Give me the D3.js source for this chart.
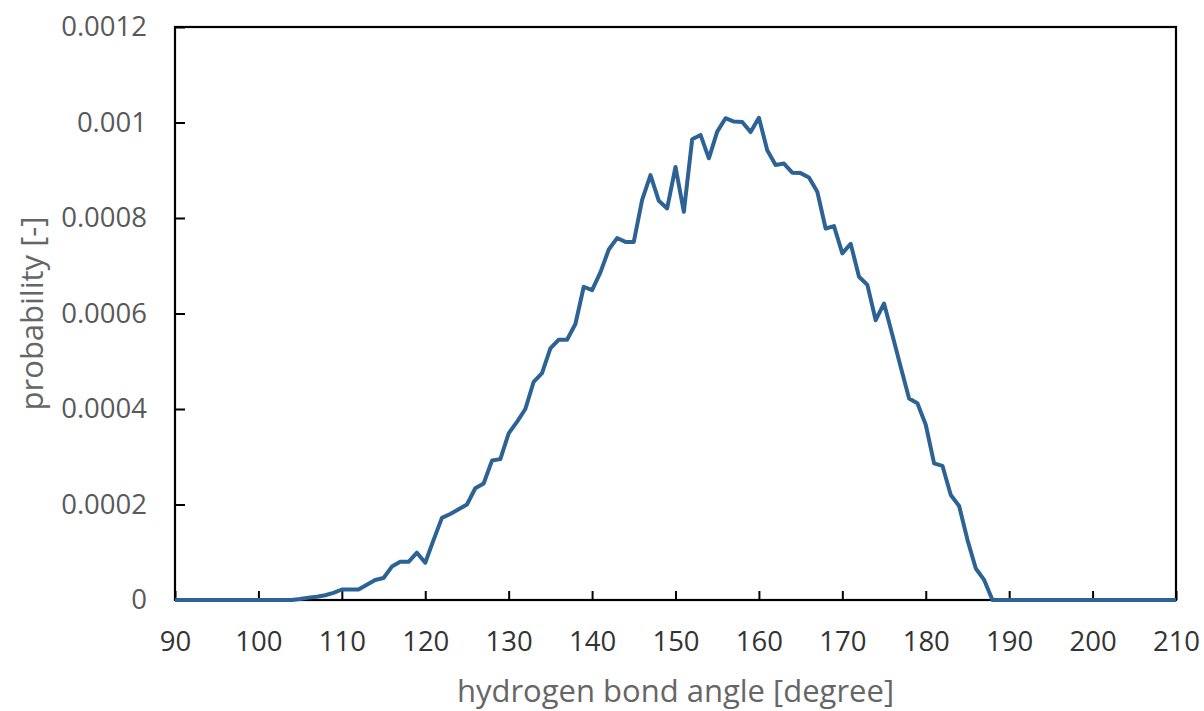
<!DOCTYPE html>
<html>
<head>
<meta charset="utf-8">
<script src="https://cdn.jsdelivr.net/npm/d3@7"></script>
<style>
  html, body { margin: 0; padding: 0; background: #ffffff; }
  svg { display: block; font-family: "Open Sans", "Liberation Sans", sans-serif; }
</style>
</head>
<body>
<svg id="chart" width="1204" height="711"></svg>
<script>
// Hydrogen bond angle distribution (degrees, 1° bins)
const angles = d3.range(90, 211, 1);
const probability = [
  // 90–104
  0, 0, 0, 0, 0, 0, 0, 0, 0, 0, 0, 0, 0, 0, 0,
  // 105–119
  0.000002, 0.000005, 0.000007, 0.00001, 0.000015, 0.000022, 0.000022, 0.000022,
  0.000032, 0.000042, 0.000046, 0.00007, 0.00008, 0.00008, 0.000099,
  // 120–134
  0.000078, 0.000126, 0.000172, 0.00018, 0.00019, 0.0002, 0.000234, 0.000244,
  0.000292, 0.000295, 0.000349, 0.000373, 0.0004, 0.000457, 0.000475,
  // 135–149
  0.000527, 0.000545, 0.000545, 0.000578, 0.000656, 0.000649, 0.000686, 0.000734,
  0.000758, 0.00075, 0.00075, 0.000838, 0.00089, 0.000836, 0.00082,
  // 150–164
  0.000907, 0.000813, 0.000965, 0.000974, 0.000925, 0.000981, 0.001009, 0.001002,
  0.001001, 0.00098, 0.00101, 0.000942, 0.000911, 0.000914, 0.000895,
  // 165–179
  0.000894, 0.000885, 0.000855, 0.000778, 0.000783, 0.000726, 0.000746, 0.000677,
  0.00066, 0.000586, 0.000621, 0.000555, 0.000488, 0.000422, 0.000412,
  // 180–194
  0.000367, 0.000286, 0.000281, 0.00022, 0.000197, 0.000126, 0.000066, 0.000042,
  0, 0, 0, 0, 0, 0, 0,
  // 195–210
  0, 0, 0, 0, 0, 0, 0, 0, 0, 0, 0, 0, 0, 0, 0, 0
];
const xTicks = [90, 100, 110, 120, 130, 140, 150, 160, 170, 180, 190, 200, 210];
const yTicks = [0, 0.0002, 0.0004, 0.0006, 0.0008, 0.001, 0.0012];
const yTickLabels = ["0", "0.0002", "0.0004", "0.0006", "0.0008", "0.001", "0.0012"];
const xTitle = "hydrogen bond angle [degree]";
const yTitle = "probability [-]";

const W = 1204, H = 711;
const margin = { top: 27, right: 28, bottom: 111, left: 175 };
const iw = W - margin.left - margin.right;
const ih = H - margin.top - margin.bottom;

const svg = d3.select("#chart");
const g = svg.append("g").attr("transform", `translate(${margin.left},${margin.top})`);

const x = d3.scaleLinear().domain([90, 210]).range([0, iw]);
const y = d3.scaleLinear().domain([0, 0.0012]).range([ih, 0]);

const points = angles.map((a, i) => ({ a, p: probability[i] }));

// Axes with inward ticks
const xAxis = g.append("g")
  .attr("transform", `translate(0,${ih})`)
  .call(d3.axisBottom(x).tickValues(xTicks).tickSizeInner(-9).tickSizeOuter(0).tickPadding(31).tickFormat(d3.format("d")));
xAxis.select(".domain").remove();
xAxis.selectAll(".tick line").attr("stroke", "#000").attr("stroke-width", 2);
xAxis.selectAll(".tick text")
  .attr("fill", "#333333").attr("font-size", 27.5).attr("font-family", "Open Sans, sans-serif");

const yAxis = g.append("g")
  .call(d3.axisLeft(y).tickValues(yTicks).tickSizeInner(-10).tickSizeOuter(0).tickPadding(28)
    .tickFormat((d, i) => yTickLabels[i]));
yAxis.select(".domain").remove();
yAxis.selectAll(".tick line").attr("stroke", "#000").attr("stroke-width", 2);
yAxis.selectAll(".tick text")
  .attr("fill", "#595959").attr("font-size", 27.5).attr("font-family", "Open Sans, sans-serif");

// Plot frame
g.append("rect")
  .attr("x", 0).attr("y", 0).attr("width", iw).attr("height", ih)
  .attr("fill", "none").attr("stroke", "#000").attr("stroke-width", 2.2);

// Distribution curve
g.append("path")
  .datum(points)
  .attr("fill", "none")
  .attr("stroke", "#2c6394")
  .attr("stroke-width", 4)
  .attr("stroke-linejoin", "round")
  .attr("d", d3.line().x(d => x(d.a)).y(d => y(d.p)));

// Axis titles
svg.append("text")
  .attr("x", margin.left + iw / 2)
  .attr("y", 702)
  .attr("text-anchor", "middle")
  .attr("fill", "#666666")
  .attr("font-size", 31)
  .text(xTitle);

svg.append("text")
  .attr("transform", `translate(43,${margin.top + ih / 2}) rotate(-90)`)
  .attr("text-anchor", "middle")
  .attr("fill", "#666666")
  .attr("font-size", 31)
  .text(yTitle);
</script>
</body>
</html>
